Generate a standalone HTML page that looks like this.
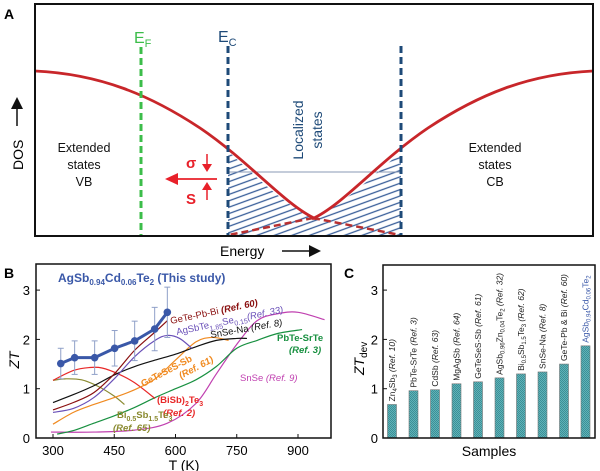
<!DOCTYPE html>
<html><head><meta charset="utf-8"><style>
body{margin:0;background:#fff;}
svg{display:block;font-family:"Liberation Sans",Arial,sans-serif;}
</style></head><body>
<svg id="fig" width="600" height="471" viewBox="0 0 600 471">
<defs>
<pattern id="hatch" patternUnits="userSpaceOnUse" width="6" height="6" patternTransform="rotate(-20)">
<line x1="0" y1="3" x2="6" y2="3" stroke="#3a5f9a" stroke-width="1.3"/>
</pattern>
<pattern id="chk" patternUnits="userSpaceOnUse" width="2" height="2">
<rect width="2" height="2" fill="#5fb3b8"/><rect width="1" height="1" fill="#3d8f96"/><rect x="1" y="1" width="1" height="1" fill="#3d8f96"/>
</pattern>
<marker id="ah" markerWidth="8" markerHeight="8" refX="6" refY="4" orient="auto"><path d="M0,0 L8,4 L0,8 Z" fill="#111"/></marker>
</defs>

<!-- Panel A -->
<g>
<text x="4" y="19" font-size="14" font-weight="bold">A</text>
<path d="M228,236 L228,151 C255,176 285,205 313,218 C343,205 373,176 401,152 L401,236 Z" fill="url(#hatch)"/>
<line x1="228" y1="172" x2="401" y2="172" stroke="#8a9ab5" stroke-width="1"/>
<path d="M313,218 L400,235" stroke="#b83030" stroke-width="2.5" stroke-dasharray="7,4" fill="none"/>
<path d="M313,218 L229,235" stroke="#b83030" stroke-width="2.5" stroke-dasharray="7,4" fill="none"/>
<path d="M35,71 C100,74 150,95 200,128 C250,162 285,205 316,219" stroke="#c8262a" stroke-width="2.8" fill="none"/>
<path d="M593,71 C528,74 478,95 428,128 C378,162 343,205 312,219" stroke="#c8262a" stroke-width="2.8" fill="none"/>
<line x1="141" y1="47" x2="141" y2="236" stroke="#3cbd4a" stroke-width="3" stroke-dasharray="7,4"/>
<line x1="228" y1="46" x2="228" y2="236" stroke="#1e4a78" stroke-width="3" stroke-dasharray="7,4"/>
<line x1="401" y1="46" x2="401" y2="236" stroke="#1e4a78" stroke-width="3" stroke-dasharray="7,4"/>
<rect x="35" y="4" width="558" height="232" fill="none" stroke="#111" stroke-width="2"/>
<text x="134" y="43" font-size="16" fill="#3cbd4a">E<tspan font-size="11" dy="4">F</tspan></text>
<text x="218" y="42" font-size="16" fill="#1e4a78">E<tspan font-size="11" dy="4">C</tspan></text>
<g font-size="12.5" text-anchor="middle" fill="#111">
<text x="84" y="152">Extended</text><text x="84" y="169">states</text><text x="84" y="186">VB</text></g>
<g font-size="12.5" text-anchor="middle" fill="#111">
<text x="495" y="152">Extended</text><text x="495" y="169">states</text><text x="495" y="186">CB</text></g>
<g font-size="14" fill="#1e4a78" text-anchor="middle">
<text transform="translate(303,130) rotate(-90)">Localized</text>
<text transform="translate(322,130) rotate(-90)">states</text></g>
<g fill="#e8202a">
<text x="186" y="168" font-size="15" font-weight="bold">σ</text>
<text x="186" y="204" font-size="15" font-weight="bold">S</text>
<line x1="207" y1="154" x2="207" y2="166" stroke="#e8202a" stroke-width="1.5"/><path d="M202,164 L212,164 L207,172 Z"/>
<line x1="207" y1="200" x2="207" y2="188" stroke="#e8202a" stroke-width="1.5"/><path d="M202,190 L212,190 L207,182 Z"/>
<line x1="176" y1="179" x2="217" y2="179" stroke="#e8202a" stroke-width="1.8"/><path d="M178,173 L178,185 L165,179 Z"/>
</g>
<text transform="translate(23,170) rotate(-90)" font-size="14">DOS</text>
<line x1="17" y1="126" x2="17" y2="100" stroke="#111" stroke-width="1.5" marker-end="url(#ah)"/>
<text x="220" y="256" font-size="14">Energy</text>
<line x1="282" y1="251" x2="318" y2="251" stroke="#111" stroke-width="1.5" marker-end="url(#ah)"/>
</g>

<!-- Panel B -->
<g id="pb">
<text x="4" y="278" font-size="14" font-weight="bold">B</text>
</g>
<!-- Panel C -->
<g id="pc">
<text x="344" y="278" font-size="14" font-weight="bold">C</text>
</g>
</svg>
<script>
const NS="http://www.w3.org/2000/svg";
// Panel B data
const xTicksB=[300,450,600,750,900];
const yTicks=[0,1,2,3];
const studyT=[319,353,402,451,500,549,580];
const studyZT=[1.51,1.63,1.63,1.82,1.97,2.21,2.55];
const studyErr=[0.31,0.34,0.34,0.36,0.40,0.44,0.51];
const geTeT=[300,350,400,450,500,550,580];
const geTeZT=[0.57,0.72,0.92,1.30,1.78,2.15,2.38];
const agSbTeT=[300,350,400,450,500,550,580,610,640];
const agSbTeZT=[0.52,0.60,0.82,1.20,1.65,1.98,2.08,2.02,1.82];
const snSeNaT=[300,350,400,450,500,550,600,650,700,750,775];
const snSeNaZT=[0.72,0.88,1.06,1.28,1.45,1.58,1.70,1.85,1.98,2.02,2.02];
const geTeSeST=[300,350,400,450,500,550,600,650,690,730];
const geTeSeSZT=[0.28,0.52,0.68,0.82,0.98,1.20,1.58,1.95,2.04,1.98];
const biSbT=[300,350,390,420,460,500,550];
const biSbZT=[1.17,1.37,1.43,1.42,1.30,1.12,0.80];
const bi05T=[300,330,370,410,450,475];
const bi05ZT=[1.17,1.20,1.18,1.05,0.85,0.68];
const pbTeT=[310,350,400,450,500,550,600,650,700,750,800,850,910];
const pbTeZT=[0.08,0.15,0.30,0.45,0.62,0.82,1.00,1.18,1.45,1.82,1.98,2.12,2.20];
const snSeT=[295,400,500,580,650,700,750,800,850,900,965];
const snSeZT=[0.12,0.12,0.16,0.30,0.70,1.30,1.90,2.38,2.52,2.55,2.40];
// Panel C data
const samples=["Zn4Sb3","PbTe-SrTe","CdSb","MgAgSb","GeTeSeS-Sb","AgSbZnTe","BiSbTe","SnSe-Na","GeTe-Pb&Bi","AgSbCdTe"];
const ztDev=[0.68,0.96,0.98,1.10,1.14,1.22,1.30,1.34,1.50,1.87];

const bx=T=>53+(T-300)*(245/600);
const by=v=>438-v*49.3;
const cy=by;
function el(tag,attrs,parent){const e=document.createElementNS(NS,tag);for(const k in attrs)e.setAttribute(k,attrs[k]);parent.appendChild(e);return e;}
function smooth(xs,ys){const p=xs.map((x,i)=>[bx(x),by(ys[i])]);let d="M"+p[0][0]+","+p[0][1];
for(let i=0;i<p.length-1;i++){const p0=p[i-1]||p[i],p1=p[i],p2=p[i+1],p3=p[i+2]||p2;
d+=` C${p1[0]+(p2[0]-p0[0])/6},${p1[1]+(p2[1]-p0[1])/6} ${p2[0]-(p3[0]-p1[0])/6},${p2[1]-(p3[1]-p1[1])/6} ${p2[0]},${p2[1]}`;}return d;}
const pb=document.getElementById('pb'),pc=document.getElementById('pc');
const series=[[snSeT,snSeZT,"#c040b0","snse-curve"],[pbTeT,pbTeZT,"#189040","pbte-srte-curve"],[bi05T,bi05ZT,"#8a8a30","bi05sb15te3-curve"],[biSbT,biSbZT,"#e82828","bisb2te3-curve"],[geTeSeST,geTeSeSZT,"#f08a20","getesess-sb-curve"],[snSeNaT,snSeNaZT,"#111111","snse-na-curve"],[agSbTeT,agSbTeZT,"#6a50b8","agsbtese-curve"],[geTeT,geTeZT,"#8a1010","gete-pb-bi-curve"]];
series.forEach(s=>{const p=el('path',{d:smooth(s[0],s[1]),stroke:s[2],'stroke-width':1.2,fill:'none'},pb);

});
studyT.forEach((t,i)=>{const l=el('line',{x1:bx(t),x2:bx(t),y1:by(studyZT[i]-studyErr[i]),y2:by(studyZT[i]+studyErr[i]),stroke:'#8fa0c8','stroke-width':1},pb);


[studyZT[i]-studyErr[i],studyZT[i]+studyErr[i]].forEach(v=>{el('line',{x1:bx(t)-3,x2:bx(t)+3,y1:by(v),y2:by(v),stroke:'#8fa0c8','stroke-width':1},pb);});});
let sd="";studyT.forEach((t,i)=>{sd+=(i?"L":"M")+bx(t)+","+by(studyZT[i]);});
const sp=el('path',{d:sd,stroke:'#3a58a8','stroke-width':3,fill:'none'},pb);


studyT.forEach((t,i)=>{const c=el('circle',{cx:bx(t),cy:by(studyZT[i]),r:3.8,fill:'#3a58a8'},pb);

});
const fb=el('rect',{x:36,y:264,width:295,height:174,fill:'none',stroke:'#111','stroke-width':1.5},pb);


xTicksB.forEach(t=>{el('line',{x1:bx(t),x2:bx(t),y1:438,y2:434,stroke:'#111'},pb);
const tx=el('text',{x:bx(t),y:455,'font-size':13,'text-anchor':'middle'},pb);tx.textContent=t;

});
yTicks.forEach(v=>{el('line',{x1:36,x2:40,y1:by(v),y2:by(v),stroke:'#111'},pb);
const tx=el('text',{x:30,y:by(v)+5,'font-size':13,'text-anchor':'end'},pb);tx.textContent=v;

});
const labelsB=[
[58,282,0,'#3a58a8',12,'bold','AgSb<tspan font-size="8" dy="3">0.94</tspan><tspan dy="-3">Cd</tspan><tspan font-size="8" dy="3">0.06</tspan><tspan dy="-3">Te</tspan><tspan font-size="8" dy="3">2</tspan><tspan dy="-3"> (This study)</tspan>','this-study-label'],
[171,324,-12,'#8a1010',9.5,'normal','GeTe-Pb-Bi <tspan font-style="italic" font-weight="bold">(Ref. 60)</tspan>','gete-pb-bi-label'],
[177,335,-12,'#6a50b8',9.5,'normal','AgSbTe<tspan font-size="7" dy="3">1.85</tspan><tspan dy="-3">Se</tspan><tspan font-size="7" dy="3">0.15</tspan><tspan dy="-3" font-style="italic">(Ref. 33)</tspan>','agsbtese-label'],
[211,338,-10,'#111',9.5,'normal','SnSe-Na <tspan font-style="italic">(Ref. 8)</tspan>','snse-na-label'],
[277,341,0,'#189040',9.5,'bold','PbTe-SrTe','pbte-label'],
[289,353,0,'#189040',9.5,'bold','<tspan font-style="italic">(Ref. 3)</tspan>','pbte-ref'],
[143,387,-28,'#f08a20',9.5,'bold','GeTeSeS-Sb','getesess-label'],
[181,379,-28,'#f08a20',9.5,'bold','<tspan font-style="italic">(Ref. 61)</tspan>','getesess-ref'],
[240,381,0,'#c040b0',9.5,'normal','SnSe <tspan font-style="italic">(Ref. 9)</tspan>','snse-label'],
[157,403,0,'#e82828',9.5,'bold','(BiSb)<tspan font-size="7" dy="3">2</tspan><tspan dy="-3">Te</tspan><tspan font-size="7" dy="3">3</tspan>','bisb-label'],
[163,416,0,'#e82828',9.5,'bold','<tspan font-style="italic">(Ref. 2)</tspan>','bisb-ref'],
[117,418,0,'#8a8a30',9.5,'bold','Bi<tspan font-size="7" dy="3">0.5</tspan><tspan dy="-3">Sb</tspan><tspan font-size="7" dy="3">1.5</tspan><tspan dy="-3">Te</tspan><tspan font-size="7" dy="3">3</tspan>','bi05-label'],
[113,431,0,'#8a8a30',9.5,'bold','<tspan font-style="italic">(Ref. 65)</tspan>','bi05-ref']];
labelsB.forEach(l=>{const t=el('text',{transform:`translate(${l[0]},${l[1]}) rotate(${l[2]})`,fill:l[3],'font-size':l[4],'font-weight':l[5]},pb);t.innerHTML=l[6];

});
const yt=el('text',{transform:'translate(19,360) rotate(-90)','font-size':14,'font-style':'italic','text-anchor':'middle'},pb);yt.textContent='ZT';


const xt=el('text',{x:184,y:470,'font-size':14,'text-anchor':'middle'},pb);xt.textContent='T (K)';



// Panel C
const cLeft=383,cRight=595,step=21.5;
const cLabels=[
'Zn<tspan font-size="6" dy="2">4</tspan><tspan dy="-2">Sb</tspan><tspan font-size="6" dy="2">3</tspan><tspan dy="-2" font-style="italic"> (Ref. 10)</tspan>',
'PbTe-SrTe <tspan font-style="italic">(Ref. 3)</tspan>',
'CdSb <tspan font-style="italic">(Ref. 63)</tspan>',
'MgAgSb <tspan font-style="italic">(Ref. 64)</tspan>',
'GeTeSeS-Sb <tspan font-style="italic">(Ref. 61)</tspan>',
'AgSb<tspan font-size="6" dy="2">0.96</tspan><tspan dy="-2">Zn</tspan><tspan font-size="6" dy="2">0.04</tspan><tspan dy="-2">Te</tspan><tspan font-size="6" dy="2">2</tspan><tspan dy="-2" font-style="italic"> (Ref. 32)</tspan>',
'Bi<tspan font-size="6" dy="2">0.5</tspan><tspan dy="-2">Sb</tspan><tspan font-size="6" dy="2">1.5</tspan><tspan dy="-2">Te</tspan><tspan font-size="6" dy="2">3</tspan><tspan dy="-2" font-style="italic"> (Ref. 62)</tspan>',
'SnSe-Na <tspan font-style="italic">(Ref. 8)</tspan>',
'GeTe-Pb &amp; Bi <tspan font-style="italic">(Ref. 60)</tspan>',
'AgSb<tspan font-size="6" dy="2">0.94</tspan><tspan dy="-2">Cd</tspan><tspan font-size="6" dy="2">0.06</tspan><tspan dy="-2">Te</tspan><tspan font-size="6" dy="2">2</tspan>'];
ztDev.forEach((v,i)=>{const cx=392+i*step;
const r=el('rect',{x:cx-4.5,y:cy(v),width:9,height:438-cy(v),fill:'url(#chk)',stroke:'#777','stroke-width':0.6},pc);


const t=el('text',{transform:`translate(${cx+3},${cy(v)-3}) rotate(-90)`,'font-size':8.5,fill:i==9?'#3a58a8':'#222'},pc);t.innerHTML=cLabels[i];

});
const fc=el('rect',{x:cLeft,y:265,width:cRight-cLeft,height:173,fill:'none',stroke:'#111','stroke-width':1.5},pc);


yTicks.forEach(v=>{el('line',{x1:cLeft,x2:cLeft+4,y1:cy(v),y2:cy(v),stroke:'#111'},pc);
const tx=el('text',{x:cLeft-5,y:cy(v)+5,'font-size':13,'text-anchor':'end'},pc);tx.textContent=v;

});
const cyt=el('text',{transform:'translate(364,375) rotate(-90)','font-size':14,'font-style':'italic'},pc);cyt.innerHTML='ZT<tspan font-size="10" dy="3" font-style="normal">dev</tspan>';


const cxt=el('text',{x:489,y:456,'font-size':14,'text-anchor':'middle'},pc);cxt.textContent='Samples';


</script>
</body></html>
